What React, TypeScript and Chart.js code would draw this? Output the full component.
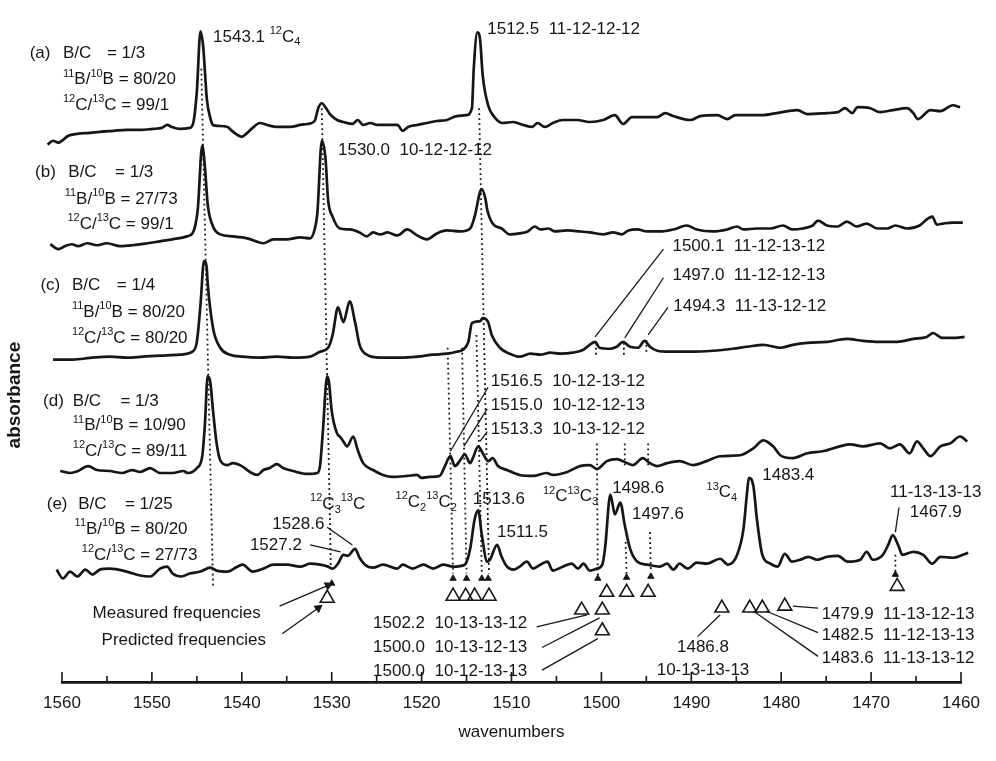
import { useEffect, useRef } from "react";
import { Chart, registerables } from "chart.js";
Chart.register(...registerables);

const W = 996;
const H = 761;
const FONT = '"Liberation Sans", Arial, Helvetica, sans-serif';
const INK = "#161616";

// layout rows (pixels)
const Y_TOP = 660; // value shown at the canvas top
const AXIS_ROW = 682;
const TICK_ROW = 703;
const TITLE_ROW = 732;

const X_MIN = 1460;
const X_MAX = 1560;

// spectra: [wavenumber, absorbance (arbitrary, stacked)]
const SPEC_A: [number, number][] = [
  [1561.6, 523], [1561.0, 527], [1560.4, 525], [1560.0, 527], [1559.3, 532], [1558.3, 534], [1556.9, 535],
  [1555.8, 536], [1554.3, 537], [1552.8, 538], [1551.3, 538], [1549.9, 539], [1548.9, 540], [1548.3, 543],
  [1547.8, 541], [1546.9, 539], [1545.8, 540], [1545.4, 545], [1545.0, 577], [1544.6, 638], [1544.3, 623],
  [1544.1, 597], [1543.9, 570], [1543.5, 550], [1543.2, 543], [1542.6, 542], [1541.6, 541], [1541.1, 537],
  [1540.5, 533], [1540.0, 531], [1539.4, 535], [1538.8, 540], [1538.0, 545], [1537.2, 543], [1536.1, 541],
  [1534.6, 541], [1533.5, 543], [1532.7, 544], [1531.9, 547], [1531.5, 560], [1531.1, 565], [1530.7, 561],
  [1530.2, 554], [1529.4, 548], [1528.7, 546], [1527.7, 544], [1527.1, 548], [1526.5, 543], [1525.7, 545],
  [1524.9, 543], [1523.8, 543], [1522.7, 543], [1522.1, 537], [1521.5, 541], [1520.5, 543], [1519.4, 545],
  [1518.3, 547], [1517.2, 548], [1516.1, 552], [1515.0, 553], [1514.4, 560], [1514.2, 600], [1513.8, 637],
  [1513.5, 630], [1513.2, 593], [1512.6, 563], [1511.8, 550], [1511.0, 545], [1509.8, 546], [1508.7, 543],
  [1507.7, 541], [1507.1, 545], [1506.3, 541], [1505.4, 545], [1504.3, 548], [1502.7, 548], [1501.3, 546],
  [1499.8, 548], [1498.5, 553], [1497.6, 544], [1496.6, 551], [1493.8, 551], [1492.9, 555], [1492.0, 552],
  [1490.1, 548], [1489.0, 552], [1487.1, 553], [1486.0, 549], [1485.1, 553], [1483.8, 553], [1482.0, 553],
  [1480.5, 555], [1478.2, 558], [1477.1, 554], [1474.9, 555], [1473.7, 556], [1472.9, 560], [1472.1, 555],
  [1471.5, 561], [1470.1, 560], [1469.0, 556], [1467.6, 558], [1466.0, 560], [1465.3, 555], [1464.8, 549],
  [1463.4, 558], [1462.3, 557], [1460.9, 563], [1460.1, 561],
];

const SPEC_B: [number, number][] = [
  [1561.3, 422], [1560.4, 417], [1559.7, 420], [1558.9, 422], [1558.2, 420], [1557.2, 423], [1556.1, 421],
  [1555.0, 423], [1553.5, 420], [1552.1, 421], [1550.5, 423], [1549.1, 425], [1547.7, 427], [1546.1, 430],
  [1545.5, 433], [1545.2, 440], [1544.9, 457], [1544.4, 522], [1544.1, 500], [1543.8, 463], [1543.2, 440],
  [1542.4, 432], [1541.0, 430], [1539.4, 428], [1537.6, 423], [1536.5, 427], [1535.0, 427], [1533.5, 429],
  [1532.4, 428], [1531.9, 437], [1531.6, 453], [1531.1, 527], [1530.7, 510], [1530.4, 467], [1529.9, 450],
  [1529.1, 438], [1528.0, 437], [1526.9, 434], [1526.1, 430], [1525.4, 434], [1524.6, 432], [1523.8, 434],
  [1522.7, 431], [1521.6, 437], [1520.5, 431], [1519.4, 427], [1518.3, 433], [1517.2, 436], [1515.7, 435],
  [1514.6, 438], [1514.1, 450], [1513.5, 475], [1513.3, 478], [1512.9, 468], [1512.7, 457], [1512.1, 443],
  [1511.1, 438], [1510.2, 432], [1509.1, 433], [1508.2, 435], [1507.4, 440], [1506.8, 437], [1505.9, 438],
  [1505.2, 435], [1503.8, 436], [1502.4, 435], [1501.3, 434], [1499.8, 432], [1498.7, 434], [1497.7, 432],
  [1497.0, 436], [1496.0, 437], [1494.9, 435], [1493.5, 435], [1492.0, 437], [1490.5, 441], [1489.4, 437],
  [1487.6, 435], [1486.0, 437], [1484.9, 440], [1484.2, 437], [1482.7, 438], [1481.2, 438], [1479.8, 441],
  [1478.8, 437], [1477.6, 438], [1476.5, 441], [1475.9, 446], [1474.9, 441], [1473.7, 440], [1472.7, 445],
  [1471.6, 440], [1470.5, 443], [1469.3, 438], [1468.2, 438], [1467.3, 441], [1466.0, 438], [1464.6, 441],
  [1463.7, 448], [1463.2, 450], [1462.7, 442], [1462.0, 443], [1460.9, 444], [1459.8, 444],
];

const SPEC_C: [number, number][] = [
  [1561.0, 305], [1558.8, 305], [1556.6, 307], [1554.7, 308], [1552.8, 307], [1551.0, 308], [1549.1, 309],
  [1546.9, 310], [1545.5, 313], [1545.0, 323], [1544.6, 360], [1544.2, 405], [1543.9, 398], [1543.8, 383],
  [1543.2, 337], [1542.4, 317], [1541.3, 310], [1539.9, 308], [1538.0, 307], [1536.1, 308], [1534.3, 307],
  [1532.4, 308], [1531.3, 313], [1530.4, 317], [1529.9, 330], [1529.3, 358], [1528.7, 343], [1528.0, 364],
  [1527.4, 343], [1526.9, 320], [1526.1, 310], [1524.6, 307], [1522.4, 307], [1520.5, 308], [1518.7, 310],
  [1517.2, 311], [1516.1, 313], [1515.4, 315], [1514.8, 323], [1514.4, 342], [1513.5, 344], [1513.2, 347],
  [1512.6, 343], [1512.2, 330], [1511.3, 317], [1510.2, 311], [1509.1, 308], [1507.9, 311], [1506.8, 310],
  [1505.7, 312], [1504.6, 311], [1503.2, 312], [1502.0, 315], [1501.3, 320], [1500.7, 323], [1500.2, 317],
  [1499.0, 316], [1498.3, 318], [1497.6, 323], [1496.8, 318], [1495.9, 317], [1495.2, 324], [1494.6, 318],
  [1493.8, 314], [1492.4, 313], [1490.1, 313], [1487.6, 314], [1485.4, 316], [1483.8, 318], [1482.0, 320],
  [1480.1, 317], [1478.7, 320], [1477.1, 322], [1474.9, 323], [1472.7, 326], [1470.9, 324], [1469.0, 323],
  [1467.1, 323], [1465.3, 326], [1463.8, 328], [1463.1, 332], [1462.1, 327], [1460.9, 327], [1459.6, 328],
];

const SPEC_D: [number, number][] = [
  [1560.2, 192], [1559.1, 190], [1558.2, 192], [1557.1, 197], [1556.1, 193], [1554.7, 192], [1553.3, 190],
  [1552.2, 193], [1551.3, 191], [1550.2, 195], [1549.1, 190], [1547.7, 190], [1546.5, 192], [1546.0, 190],
  [1545.0, 195], [1544.4, 207], [1544.1, 240], [1543.8, 288], [1543.5, 282], [1543.2, 253], [1542.8, 220],
  [1542.4, 203], [1541.6, 198], [1541.0, 200], [1540.0, 197], [1539.1, 191], [1538.3, 188], [1537.6, 193],
  [1536.9, 195], [1536.1, 199], [1535.4, 195], [1534.3, 192], [1532.7, 189], [1531.6, 190], [1531.3, 197],
  [1531.0, 230], [1530.5, 288], [1530.3, 282], [1530.0, 253], [1529.4, 230], [1529.1, 227], [1528.7, 222],
  [1528.3, 217], [1527.6, 227], [1527.1, 213], [1526.5, 200], [1525.4, 193], [1524.3, 188], [1523.2, 186],
  [1521.6, 187], [1520.5, 188], [1520.0, 185], [1519.1, 186], [1518.0, 187], [1517.4, 197], [1516.8, 207],
  [1516.3, 197], [1515.7, 203], [1515.2, 209], [1514.6, 200], [1514.3, 205], [1513.7, 217], [1513.2, 210],
  [1512.6, 202], [1512.1, 205], [1511.5, 197], [1510.5, 193], [1509.1, 188], [1507.6, 187], [1506.1, 190],
  [1505.4, 188], [1503.8, 191], [1502.4, 197], [1501.3, 198], [1500.5, 194], [1499.4, 202], [1498.3, 204],
  [1497.6, 202], [1496.5, 198], [1495.4, 205], [1494.6, 200], [1493.8, 197], [1492.7, 200], [1491.3, 202],
  [1489.8, 198], [1488.3, 202], [1486.8, 207], [1484.6, 208], [1483.1, 215], [1482.0, 223], [1480.9, 217],
  [1480.1, 208], [1478.7, 205], [1477.1, 210], [1475.4, 212], [1473.5, 217], [1472.3, 219], [1470.9, 217],
  [1469.0, 220], [1467.9, 215], [1466.8, 219], [1465.7, 210], [1464.9, 222], [1464.2, 215], [1463.4, 207],
  [1462.3, 217], [1461.2, 220], [1460.1, 227], [1459.3, 222],
];

const SPEC_E: [number, number][] = [
  [1560.6, 92], [1559.9, 83], [1559.1, 90], [1558.3, 85], [1557.4, 92], [1556.6, 87], [1555.8, 92],
  [1554.7, 93], [1552.8, 90], [1551.3, 86], [1550.2, 85], [1549.1, 93], [1548.3, 95], [1547.7, 88],
  [1546.7, 85], [1545.8, 88], [1544.6, 90], [1543.5, 94], [1542.8, 91], [1541.6, 90], [1540.5, 95],
  [1539.9, 97], [1538.8, 90], [1537.6, 93], [1536.5, 97], [1535.0, 97], [1533.5, 95], [1532.4, 98],
  [1531.3, 97], [1530.4, 95], [1529.9, 93], [1529.3, 98], [1528.7, 107], [1528.2, 106], [1527.4, 113],
  [1526.9, 104], [1526.3, 97], [1525.4, 94], [1524.3, 97], [1523.5, 95], [1522.7, 93], [1522.1, 97],
  [1521.0, 93], [1519.8, 97], [1518.7, 93], [1517.6, 97], [1516.5, 95], [1515.2, 97], [1514.6, 113],
  [1514.1, 143], [1513.7, 152], [1513.3, 127], [1512.7, 100], [1512.4, 102], [1511.6, 117], [1511.1, 105],
  [1510.5, 95], [1509.8, 92], [1509.1, 95], [1508.3, 100], [1507.6, 93], [1506.8, 97], [1506.0, 100],
  [1505.4, 91], [1504.3, 95], [1503.3, 98], [1502.6, 93], [1502.0, 98], [1501.3, 91], [1500.5, 93],
  [1499.9, 97], [1499.6, 113], [1499.0, 168], [1498.5, 148], [1497.9, 160], [1497.4, 137], [1496.8, 113],
  [1496.0, 100], [1494.9, 97], [1493.5, 95], [1492.7, 98], [1492.0, 92], [1491.3, 98], [1490.4, 93],
  [1489.4, 99], [1488.3, 98], [1486.8, 103], [1485.9, 97], [1484.9, 107], [1484.2, 133], [1483.8, 170],
  [1483.6, 185], [1483.1, 177], [1482.7, 143], [1482.1, 107], [1481.2, 98], [1480.4, 95], [1479.6, 108],
  [1478.8, 100], [1477.9, 102], [1477.0, 105], [1476.0, 102], [1474.9, 105], [1473.7, 106], [1472.6, 100],
  [1471.2, 102], [1470.5, 110], [1469.8, 102], [1468.7, 107], [1468.1, 117], [1467.6, 127], [1467.0, 117],
  [1466.5, 107], [1465.3, 110], [1464.2, 107], [1463.2, 98], [1462.3, 105], [1460.9, 104], [1459.8, 107],
  [1459.2, 109],
];

// dotted guide lines: [x1, y1, x2, y2]
const DOTTED: [number, number, number, number][] = [
  [1544.5, 600, 1543.2, 75],
  [1531.1, 560, 1530.1, 95],
  [1513.6, 560, 1512.5, 88],
  [1513.9, 330, 1513.3, 88],
  [1517.1, 317, 1516.5, 88],
  [1515.5, 317, 1515.0, 88],
  [1500.6, 322, 1500.6, 308],
  [1500.5, 220, 1500.4, 85],
  [1497.5, 322, 1497.5, 308],
  [1497.4, 220, 1497.4, 197],
  [1497.3, 120, 1497.2, 87],
  [1495.0, 325, 1495.0, 310],
  [1494.8, 220, 1494.8, 197],
  [1494.6, 130, 1494.5, 90],
  [1467.3, 107, 1467.3, 90],
];

// label leader lines: [x1, y1, x2, y2]
const LEADERS: [number, number, number, number][] = [
  [1493.1, 417, 1500.7, 328],
  [1493.1, 388, 1497.4, 327],
  [1492.6, 358, 1494.8, 330],
  [1512.6, 277, 1516.8, 212],
  [1512.7, 255, 1515.3, 217],
  [1512.7, 232, 1513.5, 222],
  [1530.5, 135, 1527.7, 117],
  [1532.4, 117, 1529.0, 110],
  [1466.9, 155, 1467.3, 130],
  [1507.2, 34, 1501.6, 46],
  [1506.6, 13, 1500.2, 43],
  [1506.6, -10, 1500.4, 22],
  [1489.3, 24, 1486.8, 46],
  [1478.7, 55, 1475.9, 53],
  [1481.7, 50, 1475.9, 28],
  [1483.1, 50, 1475.9, 4],
];

// arrows to the legend triangles: [x1, y1, x2, y2, headRotationDeg]
const ARROWS: [number, number, number, number, number][] = [
  [1535.8, 55, 1530.4, 76, 65],
  [1535.5, 27, 1531.5, 53, 54],
];

// measured (filled) and predicted (open) frequencies
const MEASURED: [number, number][] = [
  [1530.0, 78], [1516.5, 83], [1515.0, 83], [1513.3, 83], [1512.6, 83],
  [1500.4, 83], [1497.2, 84], [1494.5, 85], [1467.3, 87],
];
const PREDICTED: [number, number][] = [
  [1530.5, 63], [1516.5, 65], [1515.1, 65], [1514.1, 65], [1512.5, 65],
  [1499.4, 69], [1497.2, 69], [1494.8, 69], [1467.1, 75],
  [1502.2, 51], [1499.9, 51], [1486.6, 53], [1483.5, 53], [1482.1, 53], [1479.6, 55],
  [1499.9, 30],
];

const X_TICKS = [1560, 1550, 1540, 1530, 1520, 1510, 1500, 1490, 1480, 1470, 1460];

type Lab = { t: string; x: number; y: number; a?: "center" };
const LABELS: Lab[] = [
  { t: "1543.1 ^{12}C_{4}", x: 1543.2, y: 632 },
  { t: "1512.5  11-12-12-12", x: 1512.7, y: 640 },
  { t: "1530.0  10-12-12-12", x: 1529.3, y: 517 },
  { t: "1500.1  11-12-13-12", x: 1492.1, y: 420 },
  { t: "1497.0  11-12-12-13", x: 1492.1, y: 390 },
  { t: "1494.3  11-13-12-12", x: 1492.0, y: 359 },
  { t: "1516.5  10-12-13-12", x: 1512.3, y: 283 },
  { t: "1515.0  10-12-12-13", x: 1512.3, y: 259 },
  { t: "1513.3  10-13-12-12", x: 1512.3, y: 234 },
  { t: "1483.4", x: 1482.1, y: 188 },
  { t: "^{13}C_{4}", x: 1488.3, y: 170 },
  { t: "1498.6", x: 1498.8, y: 174 },
  { t: "1497.6", x: 1496.6, y: 148 },
  { t: "^{12}C^{13}C_{3}", x: 1506.5, y: 166 },
  { t: "1511.5", x: 1511.6, y: 130 },
  { t: "1513.6", x: 1514.3, y: 163 },
  { t: "^{12}C_{2}^{13}C_{2}", x: 1522.9, y: 160 },
  { t: "^{12}C_{3}^{13}C", x: 1532.4, y: 158 },
  { t: "1528.6", x: 1536.6, y: 138 },
  { t: "1527.2", x: 1539.1, y: 117 },
  { t: "11-13-13-13", x: 1467.9, y: 170 },
  { t: "1467.9", x: 1465.7, y: 150 },
  { t: "Measured frequencies", x: 1556.6, y: 48 },
  { t: "Predicted frequencies", x: 1555.6, y: 20 },
  { t: "1502.2  10-13-13-12", x: 1525.4, y: 38 },
  { t: "1500.0  10-13-12-13", x: 1525.4, y: 13 },
  { t: "1500.0  10-12-13-13", x: 1525.4, y: -11 },
  { t: "1486.8", x: 1488.7, y: 13, a: "center" },
  { t: "10-13-13-13", x: 1488.7, y: -10, a: "center" },
  { t: "1479.9  11-13-12-13", x: 1475.5, y: 47 },
  { t: "1482.5  11-12-13-13", x: 1475.5, y: 25 },
  { t: "1483.6  11-13-13-12", x: 1475.5, y: 2 },
  // sample conditions
  { t: "(a)", x: 1563.6, y: 616 }, { t: "B/C", x: 1559.9, y: 616 }, { t: "= 1/3", x: 1555.0, y: 616 },
  { t: "^{11}B/^{10}B = 80/20", x: 1559.9, y: 589 },
  { t: "^{12}C/^{13}C = 99/1", x: 1559.9, y: 563 },
  { t: "(b)", x: 1563.0, y: 495 }, { t: "B/C", x: 1559.3, y: 495 }, { t: "= 1/3", x: 1554.1, y: 495 },
  { t: "^{11}B/^{10}B = 27/73", x: 1559.7, y: 468 },
  { t: "^{12}C/^{13}C = 99/1", x: 1559.4, y: 442 },
  { t: "(c)", x: 1562.4, y: 380 }, { t: "B/C", x: 1558.9, y: 380 }, { t: "= 1/4", x: 1553.9, y: 380 },
  { t: "^{11}B/^{10}B = 80/20", x: 1558.9, y: 353 },
  { t: "^{12}C/^{13}C = 80/20", x: 1558.9, y: 327 },
  { t: "(d)", x: 1562.1, y: 263 }, { t: "B/C", x: 1558.8, y: 263 }, { t: "= 1/3", x: 1553.5, y: 263 },
  { t: "^{11}B/^{10}B = 10/90", x: 1558.8, y: 238 },
  { t: "^{12}C/^{13}C = 89/11", x: 1558.8, y: 212 },
  { t: "(e)", x: 1561.7, y: 158 }, { t: "B/C", x: 1558.2, y: 158 }, { t: "= 1/25", x: 1553.0, y: 158 },
  { t: "^{11}B/^{10}B = 80/20", x: 1558.6, y: 133 },
  { t: "^{12}C/^{13}C = 27/73", x: 1557.8, y: 107 },
];

const Y_LABEL = { t: "absorbance", x: 1565.2, y: 269 };

function drawRich(ctx: CanvasRenderingContext2D, text: string, x: number, y: number, size: number, align?: string) {
  const segs: { s: string; m: number }[] = [];
  const re = /(\^|_)\{([^}]*)\}/g;
  let last = 0;
  let mm: RegExpExecArray | null;
  while ((mm = re.exec(text))) {
    if (mm.index > last) segs.push({ s: text.slice(last, mm.index), m: 0 });
    segs.push({ s: mm[2], m: mm[1] === "^" ? 1 : 2 });
    last = re.lastIndex;
  }
  if (last < text.length) segs.push({ s: text.slice(last), m: 0 });
  const small = Math.round(size * 0.64);
  const fontOf = (m: number) => `${m ? small : size}px ${FONT}`;
  let total = 0;
  for (const sg of segs) {
    ctx.font = fontOf(sg.m);
    total += ctx.measureText(sg.s).width;
  }
  let cx = align === "center" ? x - total / 2 : x;
  ctx.textBaseline = "middle";
  ctx.textAlign = "left";
  for (const sg of segs) {
    ctx.font = fontOf(sg.m);
    const dy = sg.m === 1 ? -size * 0.36 : sg.m === 2 ? size * 0.3 : 0;
    ctx.fillText(sg.s, cx, y + dy);
    cx += ctx.measureText(sg.s).width;
  }
}

const decorPlugin = {
  id: "decor",
  beforeDraw(chart: any) {
    const { ctx } = chart;
    ctx.save();
    ctx.fillStyle = "#fff";
    ctx.fillRect(0, 0, chart.width, chart.height);
    ctx.restore();
  },
  afterDraw(chart: any) {
    const { ctx, scales, chartArea } = chart;
    const xs = scales.x;
    const ys = scales.y;
    ctx.save();
    // upward tick marks on the wavenumber axis
    ctx.strokeStyle = INK;
    ctx.lineWidth = 1.6;
    for (let v = X_MIN; v <= X_MAX; v += 5) {
      const px = xs.getPixelForValue(v);
      const len = X_TICKS.includes(v) ? 10 : 6;
      ctx.beginPath();
      ctx.moveTo(px, chartArea.bottom);
      ctx.lineTo(px, chartArea.bottom - len);
      ctx.stroke();
    }
    ctx.fillStyle = INK;
    for (const l of LABELS) {
      drawRich(ctx, l.t, xs.getPixelForValue(l.x), ys.getPixelForValue(l.y), 17, l.a);
    }
    ctx.translate(xs.getPixelForValue(Y_LABEL.x), ys.getPixelForValue(Y_LABEL.y));
    ctx.rotate(-Math.PI / 2);
    ctx.font = `bold 19px ${FONT}`;
    ctx.textAlign = "center";
    ctx.textBaseline = "middle";
    ctx.fillText(Y_LABEL.t, 0, 0);
    ctx.restore();
  },
};

function buildConfig(): any {
  const pts = (arr: [number, number][]) => arr.map(([x, y]) => ({ x, y }));
  const spectrum = (arr: [number, number][]) => ({
    data: pts(arr),
    borderColor: INK,
    borderWidth: 2.7,
    pointRadius: 0,
    cubicInterpolationMode: "monotone",
    clip: false,
    fill: false,
  });
  const seg = (s: number[], dashed: boolean) => ({
    data: [{ x: s[0], y: s[1] }, { x: s[2], y: s[3] }],
    borderColor: INK,
    borderWidth: dashed ? 1.8 : 1.3,
    borderDash: dashed ? [1.8, 3.2] : [],
    pointRadius: 0,
    clip: false,
    fill: false,
  });
  const datasets: any[] = [];
  DOTTED.forEach((s) => datasets.push(seg(s, true)));
  LEADERS.forEach((s) => datasets.push(seg(s, false)));
  ARROWS.forEach((a) =>
    datasets.push({
      ...seg(a, false),
      pointRadius: [0, 4.5],
      pointStyle: "triangle",
      rotation: a[4],
      pointBackgroundColor: INK,
      pointBorderColor: INK,
      pointBorderWidth: 1,
    })
  );
  [SPEC_A, SPEC_B, SPEC_C, SPEC_D, SPEC_E].forEach((s) => datasets.push(spectrum(s)));
  datasets.push({
    data: pts(MEASURED),
    showLine: false,
    pointStyle: "triangle",
    pointRadius: 3.6,
    pointBackgroundColor: INK,
    pointBorderColor: INK,
    pointBorderWidth: 1,
    clip: false,
  });
  datasets.push({
    data: pts(PREDICTED),
    showLine: false,
    pointStyle: "triangle",
    pointRadius: 8,
    pointBackgroundColor: "rgba(255,255,255,0)",
    pointBorderColor: INK,
    pointBorderWidth: 1.6,
    clip: false,
  });

  return {
    type: "line",
    data: { datasets },
    options: {
      responsive: false,
      animation: false,
      events: [],
      layout: { padding: { left: 62, right: 35, top: 0, bottom: 0 } },
      plugins: { legend: { display: false }, tooltip: { enabled: false } },
      scales: {
        x: {
          type: "linear",
          min: X_MIN,
          max: X_MAX,
          reverse: true,
          position: "bottom",
          afterFit: (s: any) => {
            s.height = H - AXIS_ROW;
          },
          afterBuildTicks: (s: any) => {
            s.ticks = X_TICKS.map((v) => ({ value: v }));
          },
          grid: { display: false, drawTicks: false },
          border: { display: true, color: INK, width: 2.8 },
          ticks: {
            autoSkip: false,
            maxRotation: 0,
            padding: TICK_ROW - AXIS_ROW - 10.2,
            color: INK,
            font: { family: FONT, size: 17 },
            callback: (v: any) => String(v),
          },
          title: {
            display: true,
            text: "wavenumbers",
            color: INK,
            font: { family: FONT, size: 17 },
            padding: { top: 0, bottom: H - TITLE_ROW - 10.2 },
          },
        },
        y: { display: false, min: Y_TOP - AXIS_ROW, max: Y_TOP },
      },
    },
    plugins: [decorPlugin],
  };
}

export default function App() {
  const ref = useRef<HTMLCanvasElement>(null);
  useEffect(() => {
    const canvas = ref.current;
    if (!canvas) return;
    const chart = new Chart(canvas, buildConfig());
    return () => chart.destroy();
  }, []);
  return (
    <div style={{ position: "absolute", left: 0, top: 0, width: W, height: H, background: "#fff" }}>
      <canvas ref={ref} width={W} height={H} style={{ display: "block", width: W, height: H }} />
    </div>
  );
}
